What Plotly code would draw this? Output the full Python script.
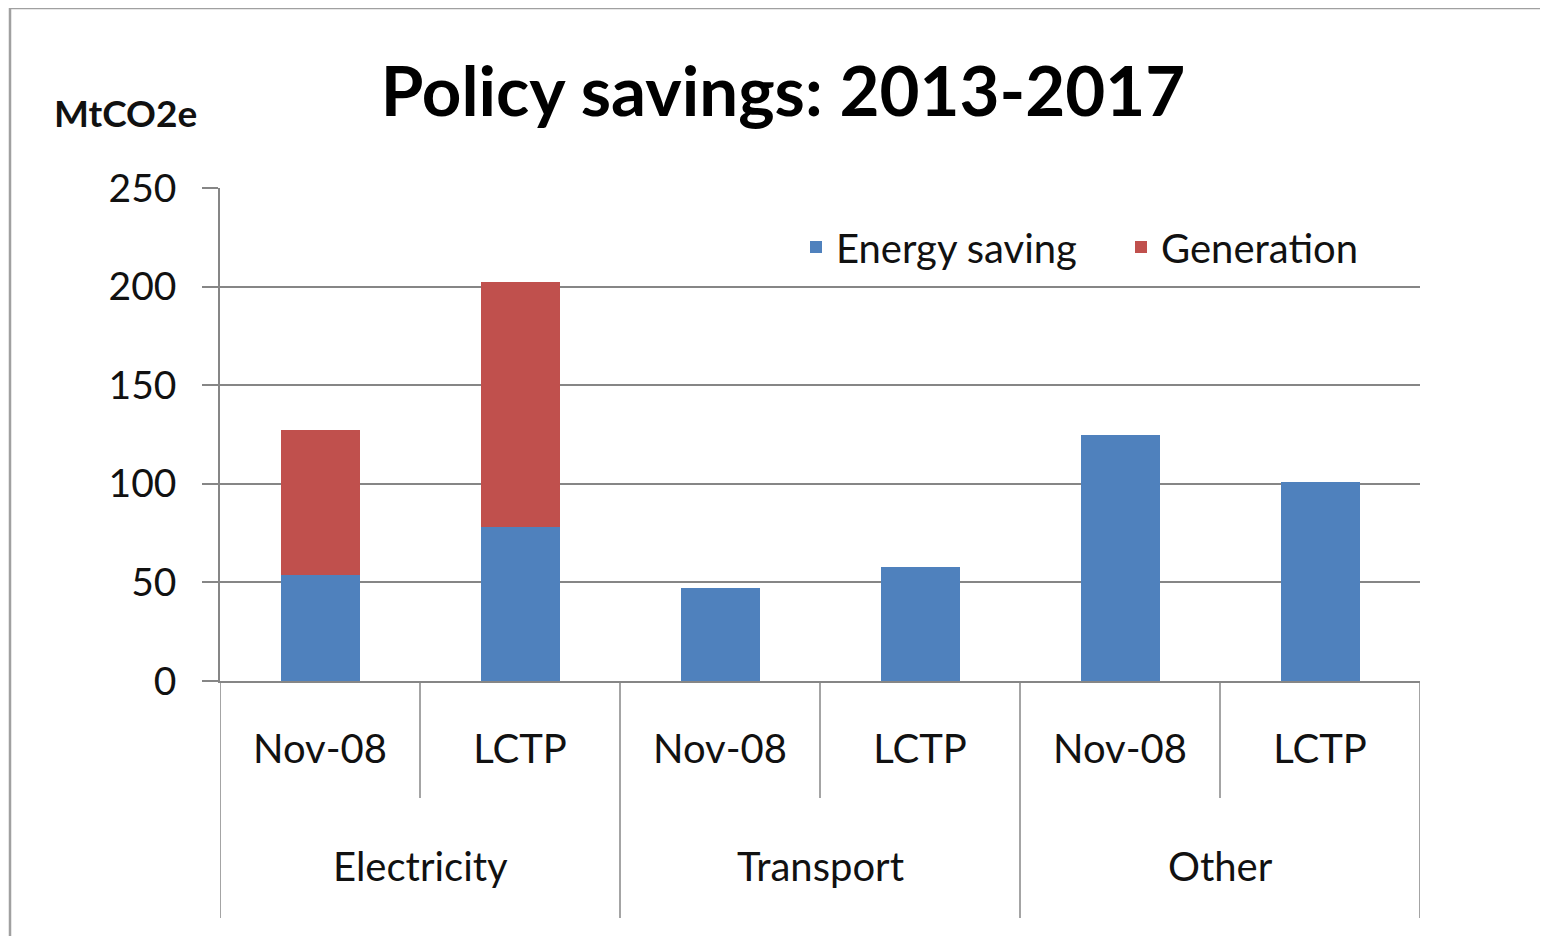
import plotly.graph_objects as go

sectors = ["Electricity", "Transport", "Other"]
scenarios = ["Nov-08", "LCTP"]
energy_saving = [54, 78, 47, 58, 125, 101]
generation = [73.5, 124.5, 0, 0, 0, 0]
y_ticks = [0, 50, 100, 150, 200, 250]

BLUE = "#4F81BD"
RED = "#C0504D"
GRID = "#868686"
FONT = "Lato"

n_sub = len(scenarios)
n = len(sectors) * n_sub
xpos = list(range(n))
sub_labels = [s for _ in sectors for s in scenarios]

fig = go.Figure()
fig.add_trace(go.Bar(x=xpos, y=energy_saving, name="Energy saving",
                     marker=dict(color=BLUE, line=dict(width=0)), width=0.395))
fig.add_trace(go.Bar(x=xpos, y=generation, name="Generation",
                     marker=dict(color=RED, line=dict(width=0)), width=0.395))

# page has an 8px body margin
OFF = 8
W, H = 1540, 928
L, T = 212, 180
PW, PH = 1200, 493
R = W - L - PW
B = H - T - PH


def xp(px):
    return (px - OFF - L) / PW


def yp(py):
    return (OFF + T + PH - py) / PH


shapes = []
for i in range(n + 1):
    xb = i - 0.5
    long_line = (i % n_sub == 0)
    bottom = 918 if long_line else 798
    shapes.append(dict(type="line", xref="x", yref="paper", x0=xb, x1=xb,
                       y0=0, y1=yp(bottom), line=dict(color=GRID, width=1.5)))
shapes.append(dict(type="rect", xref="paper", yref="paper",
                   x0=xp(10), x1=xp(1620), y0=yp(1000), y1=yp(8),
                   line=dict(color="#A0A0A0", width=2.5), fillcolor="rgba(0,0,0,0)"))

annotations = []
for k, sec in enumerate(sectors):
    center = k * n_sub + (n_sub - 1) / 2
    annotations.append(dict(x=center, xref="x", y=yp(866), yref="paper",
                            text=sec, showarrow=False, xanchor="center", yanchor="middle",
                            font=dict(family=FONT, size=40, color="#111")))
annotations.append(dict(x=xp(125), xref="paper", y=yp(113), yref="paper",
                        text="MtCO2e", showarrow=False, xanchor="center", yanchor="middle",
                        font=dict(family=FONT, size=37, color="#111", weight="bold")))

fig.update_layout(
    width=W, height=H,
    margin=dict(l=L, r=R, t=T, b=B),
    paper_bgcolor="white", plot_bgcolor="white",
    barmode="stack",
    title=dict(text="Policy savings: 2013-2017", x=xp(783), xref="paper",
               xanchor="center", y=1 - (92 - OFF) / H, yanchor="middle",
               font=dict(family=FONT, size=69, color="#000", weight="bold")),
    legend=dict(orientation="h", x=xp(796), xanchor="left",
                y=yp(247), yanchor="middle",
                font=dict(family=FONT, size=40, color="#111"),
                bgcolor="rgba(0,0,0,0)", itemwidth=30, traceorder="normal",
                entrywidth=280),
    shapes=shapes, annotations=annotations,
    showlegend=True,
)
fig.update_xaxes(range=[-0.5, n - 0.5], tickvals=xpos, ticktext=sub_labels,
                 ticks="", showgrid=False, zeroline=False, showline=True,
                 linecolor=GRID, linewidth=1.5,
                 tickfont=dict(family=FONT, size=40, color="#111"),
                 ticklabelstandoff=32)
fig.update_yaxes(range=[0, 250], tickvals=y_ticks, ticks="outside", ticklen=16,
                 tickcolor=GRID, tickwidth=1.5, showline=True, linecolor=GRID,
                 linewidth=1.5, gridcolor=GRID, gridwidth=1.5, zeroline=False,
                 tickfont=dict(family=FONT, size=39, color="#111"),
                 ticklabelstandoff=18)

fig.write_html("out.html")
